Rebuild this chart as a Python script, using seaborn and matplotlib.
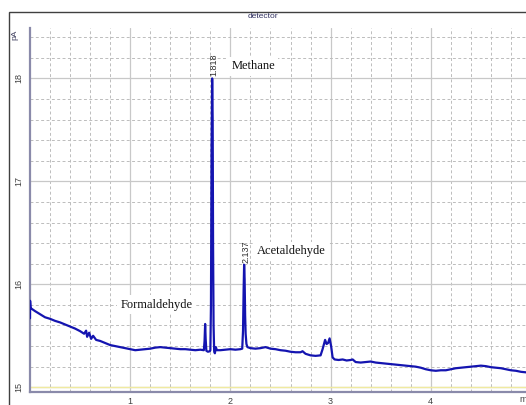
import matplotlib
matplotlib.use("Agg")
import matplotlib.pyplot as plt
from matplotlib.ticker import MultipleLocator, FixedLocator
from matplotlib.patches import Rectangle
import seaborn as sns
import pandas as pd

# ---- data ----
time_min = [0.000, 0.001, 0.006, 0.02, 0.05, 0.10, 0.15, 0.20, 0.25, 0.30, 0.35, 0.40,
            0.45, 0.50, 0.54, 0.56, 0.57, 0.59, 0.61, 0.63, 0.66, 0.70, 0.75, 0.80,
            0.85, 0.90, 0.95, 1.00, 1.05, 1.10, 1.15, 1.20, 1.25, 1.30, 1.35, 1.40,
            1.45, 1.50, 1.55, 1.60, 1.65, 1.70, 1.735, 1.742, 1.748, 1.753, 1.76, 1.775,
            1.795, 1.800, 1.806, 1.812, 1.818, 1.823, 1.827, 1.832, 1.838, 1.845, 1.855,
            1.865, 1.90, 1.95, 2.00, 2.05, 2.10, 2.118, 2.126, 2.132, 2.137, 2.142, 2.147,
            2.152, 2.16, 2.17, 2.20, 2.25, 2.30, 2.35, 2.40, 2.45, 2.50, 2.55, 2.60,
            2.65, 2.70, 2.72, 2.75, 2.80, 2.85, 2.90, 2.92, 2.945, 2.96, 2.975, 2.99,
            3.005, 3.02, 3.04, 3.08, 3.12, 3.16, 3.20, 3.22, 3.25, 3.30, 3.35, 3.40,
            3.45, 3.50, 3.55, 3.60, 3.65, 3.70, 3.75, 3.80, 3.85, 3.90, 3.95, 4.00,
            4.05, 4.10, 4.15, 4.20, 4.25, 4.30, 4.35, 4.40, 4.45, 4.50, 4.55, 4.60,
            4.65, 4.70, 4.75, 4.80, 4.85, 4.90, 4.95]
signal_pA = [15.67, 15.84, 15.77, 15.76, 15.74, 15.71, 15.68, 15.665, 15.645, 15.63, 15.61, 15.59,
             15.57, 15.545, 15.52, 15.55, 15.49, 15.53, 15.47, 15.50, 15.46, 15.45, 15.43, 15.41,
             15.40, 15.39, 15.38, 15.37, 15.36, 15.365, 15.37, 15.375, 15.385, 15.39, 15.385, 15.38,
             15.375, 15.37, 15.37, 15.365, 15.36, 15.365, 15.36, 15.45, 15.615, 15.47, 15.355, 15.345,
             15.35, 15.36, 15.8, 17.3, 18.0, 17.6, 16.4, 15.6, 15.35, 15.33, 15.39,
             15.36, 15.36, 15.365, 15.37, 15.365, 15.37, 15.375, 15.55, 15.95, 16.19, 16.05, 15.7,
             15.52, 15.42, 15.39, 15.38, 15.375, 15.38, 15.39, 15.375, 15.37, 15.36, 15.355, 15.345,
             15.34, 15.34, 15.35, 15.325, 15.31, 15.305, 15.31, 15.37, 15.46, 15.42, 15.43, 15.475,
             15.40, 15.29, 15.27, 15.265, 15.27, 15.26, 15.265, 15.27, 15.245, 15.24, 15.245, 15.25,
             15.24, 15.235, 15.23, 15.225, 15.22, 15.215, 15.21, 15.205, 15.20, 15.19, 15.175, 15.165,
             15.16, 15.165, 15.165, 15.175, 15.185, 15.19, 15.195, 15.20, 15.205, 15.21, 15.205, 15.195,
             15.19, 15.185, 15.175, 15.165, 15.16, 15.15, 15.145]

x_major_ticks = [1, 2, 3, 4]
x_tick_labels = ["1", "2", "3", "4"]
y_major_ticks = [15, 16, 17, 18]
y_tick_labels = ["15", "16", "17", "18"]

peak_times = [1.818, 2.137]
peak_heights = [18.0, 16.19]
peak_labels = ["1.818", "2.137"]

compound_names = ["Methane", "Acetaldehyde", "Formaldehyde"]
compound_x = [2.226, 2.61, 1.26]
compound_y = [18.12, 16.32, 15.80]

df = pd.DataFrame({"time": time_min, "signal": signal_pA})

sns.set_style("white")
plt.rcParams["font.family"] = ["Liberation Sans", "DejaVu Sans"]

W, H = 526, 405
fig = plt.figure(figsize=(W / 100, H / 100), dpi=100)
ax = fig.add_axes([30 / W, 13 / H, 496 / W, 364 / H])

sns.lineplot(data=df, x="time", y="signal", sort=False, estimator=None,
             color="#1414b0", lw=1.6, ax=ax, zorder=3)

ax.axhline(15.0, color="#f0eaa0", lw=1.0, zorder=1)

ax.set_xlim(0, 4.95)
ax.set_ylim(14.954, 18.49)
ax.set_xlabel("")
ax.set_ylabel("")

ax.xaxis.set_major_locator(FixedLocator(x_major_ticks))
ax.set_xticklabels(x_tick_labels)
ax.xaxis.set_minor_locator(MultipleLocator(0.2))
ax.yaxis.set_major_locator(FixedLocator(y_major_ticks))
ax.set_yticklabels(y_tick_labels)
ax.yaxis.set_minor_locator(MultipleLocator(0.2))

ax.set_axisbelow(True)
ax.grid(which="major", color="#c8c8c8", lw=0.9, ls="-")
ax.grid(which="minor", color="#bcbcbc", lw=0.7, ls=(0, (3, 2.5)))

ax.tick_params(which="both", direction="out", length=3, width=0.8, color="#505060",
               labelsize=6.5, labelcolor="#404040", pad=1.5)
ax.tick_params(axis="x", which="both", pad=0.5)
ax.tick_params(which="minor", length=2)
for lbl in ax.get_yticklabels():
    lbl.set_rotation(90)
    lbl.set_va("center")

for side in ["top", "right"]:
    ax.spines[side].set_visible(False)
for side in ["left", "bottom"]:
    ax.spines[side].set_color("#8a8aaa")
    ax.spines[side].set_linewidth(1.6)

# retention time annotations
for t, h, lab in zip(peak_times, peak_heights, peak_labels):
    ax.text(t + 0.016, h + 0.02, lab, rotation=90, ha="center", va="bottom",
            fontsize=6.5, color="#303030", zorder=4)

# compound names
for name, cx, cy in zip(compound_names, compound_x, compound_y):
    ax.text(cx, cy, name, ha="center", va="center", fontsize=9,
            family=["Liberation Serif", "DejaVu Serif"], color="#101010", zorder=4,
            bbox=dict(facecolor="white", edgecolor="none", pad=2.5))

# figure-level labels
fig.text(0.5, 1 - 17 / H, "detector", ha="center", va="center", fontsize=6,
         color="#303060")
fig.text(15 / W, 1 - 35 / H, "pA", ha="center", va="center", rotation=90,
         fontsize=6, color="#404060")
fig.text(519 / W, 1 - 399 / H, "min", ha="left", va="center", fontsize=6.5,
         color="#404040")

# outer frame
fig.patches.append(Rectangle((9 / W, -0.1), 1.2, 0.1 + 1 - 12 / H,
                             transform=fig.transFigure, fill=False,
                             edgecolor="#404040", lw=1.0))

fig.savefig("out.png", dpi=100)
